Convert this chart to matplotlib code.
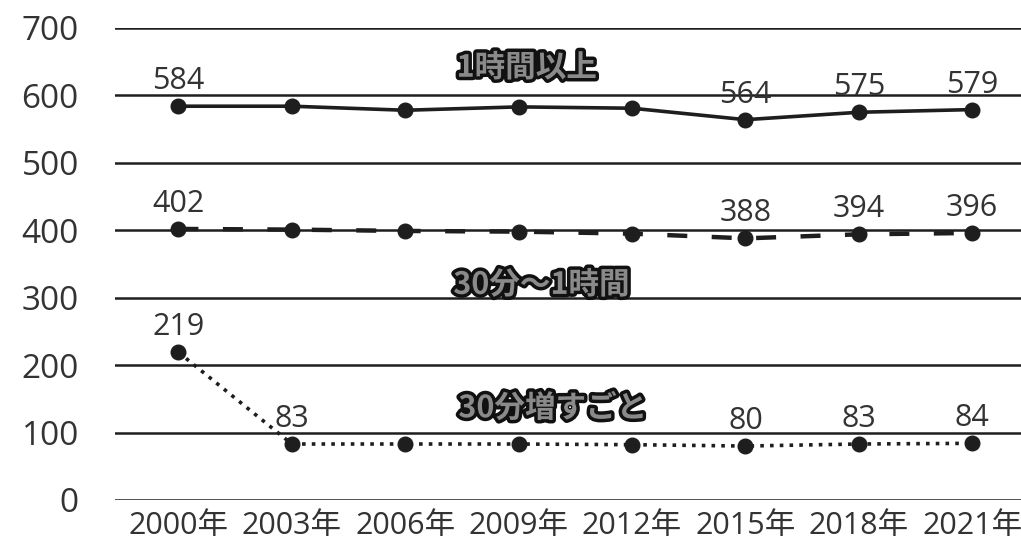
import matplotlib
matplotlib.use("Agg")
import matplotlib.pyplot as plt
import matplotlib.patheffects as pe

plt.rcParams['font.family'] = ['Open Sans', 'Noto Sans CJK JP', 'DejaVu Sans']

years = ["2000年", "2003年", "2006年", "2009年", "2012年", "2015年", "2018年", "2021年"]
over_1h = [584, 584, 578, 583, 581, 564, 575, 579]
min30_1h = [402, 401, 399, 398, 395, 388, 394, 396]
per_30min = [219, 83, 83, 83, 82, 80, 83, 84]

labels_over_1h = [0, 5, 6, 7]
labels_min30_1h = [0, 5, 6, 7]
labels_per_30min = [0, 1, 5, 6, 7]

series_names = ["1時間以上", "30分～1時間", "30分増すごと"]
yticks = [0, 100, 200, 300, 400, 500, 600, 700]

fig = plt.figure(figsize=(10.21, 5.51), dpi=100)
ax = fig.add_axes([0.1126, 0.0926, 0.8874, 0.8566])

x = list(range(len(years)))
dark = '#1e1e1e'

for yv in yticks:
    ax.axhline(yv, color=dark, lw=1.8, zorder=1)

ax.plot(x, over_1h, color=dark, lw=2.6, marker='o', ms=10.5, zorder=3)
ax.plot(x, min30_1h, color=dark, lw=3.2, ls=(0, (4.5, 5.5)), marker='o', ms=10.5, zorder=3)
ax.plot(x, per_30min, color=dark, lw=2.6, ls=(0, (1, 1.7)), marker='o', ms=10.5, zorder=3)

txtc = '#333333'
for vals, idxs in ((over_1h, labels_over_1h), (min30_1h, labels_min30_1h), (per_30min, labels_per_30min)):
    for i in idxs:
        ax.annotate(str(vals[i]), (x[i], vals[i]), xytext=(0, 18), textcoords='offset points',
                    ha='center', va='center', fontsize=22, color=txtc, zorder=4)

effects = [pe.withStroke(linewidth=5, foreground='#111111')]
name_pos = [(3.07, 641), (3.2, 319), (3.3, 136)]
for name, (px, py) in zip(series_names, name_pos):
    ax.text(px, py, name, ha='center', va='center', fontsize=22, fontweight='bold',
            family=['Noto Sans CJK JP', 'DejaVu Sans'],
            color='#8a8a8a', path_effects=effects, zorder=5)

ax.set_xlim(-0.56, 7.43)
ax.set_ylim(0, 700)
ax.set_yticks(yticks)
ax.set_xticks(x)
ax.set_xticklabels(years)
ax.tick_params(axis='both', length=0, labelcolor=txtc)
ax.tick_params(axis='y', pad=26, labelsize=24)
ax.tick_params(axis='x', pad=8, labelsize=22)
for s in ax.spines.values():
    s.set_visible(False)

fig.savefig('out.png', dpi=100, facecolor='white')
